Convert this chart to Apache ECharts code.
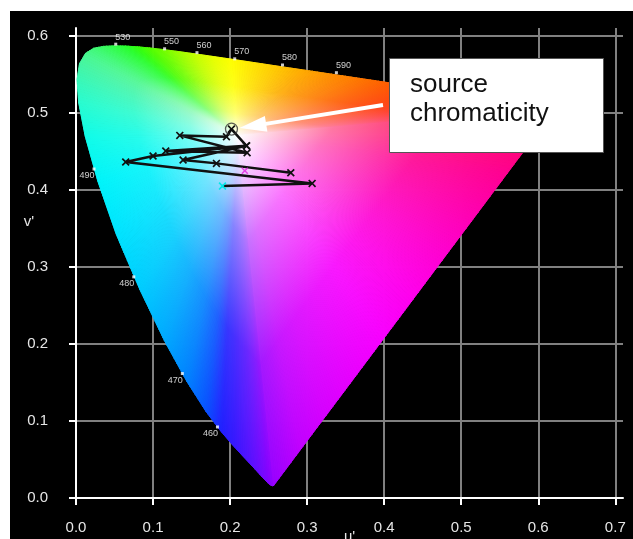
<!DOCTYPE html>
<html><head><meta charset="utf-8">
<script src="https://cdn.jsdelivr.net/npm/echarts@6/dist/echarts.min.js"></script>
<style>
html,body{margin:0;padding:0;background:#fff;}
#wrap{position:relative;width:633px;height:539px;overflow:hidden;}
#bg{position:absolute;left:10px;top:11px;right:0;bottom:0;background:#000;}
#chart{position:absolute;left:0;top:0;width:633px;height:539px;}
</style></head><body>
<div id="wrap"><div id="bg"></div><div id="chart"></div></div>
<script>
// Spectral locus (CIE 1976 u'v')
const locusWl = [380,400,410,420,425,430,435,440,445,450,455,460,465,470,475,480,485,490,495,500,505,510,515,520,525,530,535,540,545,550,555,560,565,570,575,580,585,590,595,600,605,610,620,630,640,650,660,680,700];
const locusU = [0.2568,0.2557,0.2545,0.2522,0.2496,0.2461,0.2411,0.2347,0.2266,0.2161,0.2033,0.1877,0.1690,0.1441,0.1147,0.0828,0.0521,0.0282,0.0119,0.0035,0.0014,0.0046,0.0123,0.0231,0.0360,0.0501,0.0643,0.0792,0.0953,0.1127,0.1319,0.1531,0.1766,0.2026,0.2312,0.2623,0.2960,0.3315,0.3681,0.4035,0.4379,0.4692,0.5203,0.5565,0.5830,0.6005,0.6109,0.6199,0.6234];
const locusV = [0.0166,0.0159,0.0159,0.0169,0.0191,0.0226,0.0279,0.0350,0.0437,0.0549,0.0688,0.0871,0.1119,0.1510,0.2044,0.2708,0.3427,0.4117,0.4698,0.5131,0.5432,0.5638,0.5770,0.5837,0.5861,0.5868,0.5865,0.5856,0.5841,0.5821,0.5796,0.5766,0.5732,0.5694,0.5651,0.5604,0.5554,0.5501,0.5446,0.5393,0.5342,0.5296,0.5219,0.5165,0.5125,0.5099,0.5084,0.5070,0.5065];
const locusColor = ['#9a00ff','#9400ff','#9000ff','#8a00ff','#8400ff','#7c04ff','#7208ff','#660cff','#5810ff','#4814ff','#3418ff','#2020ff','#0850ff','#0080ff','#00a8ff','#00ccff','#00e4ff','#00f4fa','#10fce8','#28fcd0','#38f8b8','#44f6a4','#48f890','#40fa78','#38fc60','#30fe48','#28ff30','#30ff10','#50ff00','#70ff00','#98ff00','#c0ff00','#e4ff00','#ffff00','#ffe400','#ffc800','#ffaa00','#ff9000','#ff7800','#ff6000','#ff4c00','#ff3c00','#ff2c10','#ff2020','#ff1830','#ff1438','#ff1040','#ff0c48','#ff0850'];
// Line of purples (from red end toward violet end)
const purpleU = [0.60,0.56,0.52,0.48,0.44,0.40,0.36,0.32,0.29];
const purpleV = [0.4752,0.4218,0.3683,0.3149,0.2614,0.2080,0.1545,0.1011,0.0610];
const purpleColor = ['#ff0868','#ff0090','#ff00b0','#ff00d0','#ff00ec','#f800ff','#e800ff','#d400ff','#c000ff'];
const whiteU = 0.21, whiteV = 0.47;

// Wavelength markers
const markerWl = ['460','470','480','490','530','550','560','570','580','590'];
const markerU = [0.1836,0.138,0.075,0.0234,0.0516,0.115,0.157,0.206,0.268,0.338];
const markerV = [0.0922,0.1615,0.287,0.427,0.589,0.583,0.578,0.570,0.562,0.552];

// Measured chromaticity trajectory
const pathU = [0.1901,0.3065,0.0645,0.1000,0.2213,0.1165,0.2221,0.1347,0.1953,0.2018,0.2213,0.1390,0.1823,0.2788];
const pathV = [0.4048,0.4083,0.4360,0.4438,0.4571,0.4503,0.4480,0.4706,0.4688,0.4788,0.4571,0.4386,0.4343,0.4221];
const sourceU = [0.2018], sourceV = [0.4788];
const extraU = [0.2191], extraV = [0.4247];

const ticksX = [0,0.1,0.2,0.3,0.4,0.5,0.6,0.7];
const ticksY = [0,0.1,0.2,0.3,0.4,0.5,0.6];

function hexRgb(h){return [parseInt(h.substr(1,2),16),parseInt(h.substr(3,2),16),parseInt(h.substr(5,2),16)];}
function rgbStr(a){return 'rgb('+a.map(v=>Math.round(v)).join(',')+')';}
function mixRgb(a,b,t){return a.map((v,i)=>v*(1-t)+b[i]*t);}
function tint(rgb,a){return rgb.map(v=>255*(1-a)+v*a);}

const boundary = [];
for (let i=0;i<locusU.length;i++) boundary.push([locusU[i],locusV[i],locusColor[i]]);
for (let i=0;i<purpleU.length;i++) boundary.push([purpleU[i],purpleV[i],purpleColor[i]]);
boundary.push([locusU[0],locusV[0],locusColor[0]]);
const segData = boundary.slice(0,-1).map((p,i)=>[p[0],p[1],i]);

const xSym = 'path://M0,1.5L1.5,0L5,3.5L8.5,0L10,1.5L6.5,5L10,8.5L8.5,10L5,6.5L1.5,10L0,8.5L3.5,5Z';
const txt = '#e6e6e6';
const chart = echarts.init(document.getElementById('chart'), null, {renderer:'canvas'});
chart.setOption({
  animation:false,
  grid:{left:76,right:10,top:28,bottom:41,outerBoundsMode:'none',containLabel:false},
  xAxis:{type:'value',min:0,max:0.71,interval:0.1,
    name:"u'",nameLocation:'middle',nameGap:31,nameMoveOverlap:false,nameTextStyle:{color:txt,fontSize:15,fontFamily:'Liberation Sans'},
    axisLine:{show:true,lineStyle:{color:'#ffffff',width:2}},
    axisTick:{show:true,length:7,lineStyle:{color:'#ffffff',width:2},customValues:ticksX},
    axisLabel:{color:txt,fontSize:15,fontFamily:'Liberation Sans',margin:22,customValues:ticksX,formatter:v=>v.toFixed(1)},
    splitLine:{show:true,lineStyle:{color:'#808080',width:2}}},
  yAxis:{type:'value',min:0,max:0.61,interval:0.1,
    axisLine:{show:true,lineStyle:{color:'#ffffff',width:2}},
    axisTick:{show:true,length:7,lineStyle:{color:'#ffffff',width:2},customValues:ticksY},
    axisLabel:{color:txt,fontSize:15,fontFamily:'Liberation Sans',margin:28,customValues:ticksY,formatter:v=>v.toFixed(1)},
    splitLine:{show:true,lineStyle:{color:'#808080',width:2}}},
  series:[
    {type:'custom',z:2,silent:true,encode:{x:0,y:1},data:segData,
     renderItem:function(params,api){
       const i=api.value(2);
       const a=boundary[i],b=boundary[i+1];
       const w=api.coord([whiteU,whiteV]);
       const pa=api.coord([a[0],a[1]]),pb=api.coord([b[0],b[1]]);
       const ex=pb[0]-pa[0], ey=pb[1]-pa[1];
       const len=Math.hypot(ex,ey);
       const t=((w[0]-pa[0])*ex+(w[1]-pa[1])*ey)/(ex*ex+ey*ey||1);
       const foot=[pa[0]+ex*t, pa[1]+ey*t];
       const ca=hexRgb(a[2]), cb=hexRgb(b[2]);
       const n=Math.max(1,Math.ceil(len/3));
       const children=[];
       for(let k=0;k<n;k++){
         const s0=k/n, s1=(k+1)/n;
         const q0=[pa[0]+ex*s0,pa[1]+ey*s0], q1=[pa[0]+ex*s1,pa[1]+ey*s1];
         const c=mixRgb(ca,cb,(s0+s1)/2);
         const grad={type:'linear',x:w[0],y:w[1],x2:foot[0],y2:foot[1],global:true,
           colorStops:[{offset:0,color:'#ffffff'},{offset:0.3,color:rgbStr(tint(c,0.55))},{offset:0.65,color:rgbStr(tint(c,0.9))},{offset:1,color:rgbStr(c)}]};
         children.push({type:'polygon',shape:{points:[w,q0,q1]},style:{fill:grad,stroke:grad,lineWidth:0.8}});
       }
       return {type:'group',children:children};
     }},
    {type:'scatter',z:4,symbol:'rect',symbolSize:3,itemStyle:{color:'#ffffff'},
     data:markerWl.map((w,i)=>{
       const up = markerV[i]>0.5;
       return {name:w,value:[markerU[i],markerV[i]],
         label:{show:true,formatter:'{b}',color:'#ffffff',fontSize:9,fontFamily:'Liberation Sans',
           position: up?[1,-1]:[2,4], align: up?'left':'right', verticalAlign: up?'bottom':'top'}};
     })},
    {type:'line',z:5,data:pathU.map((u,i)=>{
        const d={value:[u,pathV[i]]};
        if(i===0) d.itemStyle={color:'#00e8e8'};
        return d;}),
     symbol:xSym,symbolSize:8,showAllSymbol:true,
     itemStyle:{color:'#111111'},lineStyle:{color:'#111111',width:2.5}},
    {type:'scatter',z:6,symbol:xSym,symbolSize:7,itemStyle:{color:'#e020e0'},
     data:extraU.map((u,i)=>[u,extraV[i]])},
    {type:'scatter',z:6,symbol:'circle',symbolSize:12,
     itemStyle:{color:'rgba(0,0,0,0)',borderColor:'#333333',borderWidth:1.3},
     data:sourceU.map((u,i)=>[u,sourceV[i]])}
  ]
});

// annotation box + arrow pointing to source chromaticity
const src = chart.convertToPixel({gridIndex:0},[sourceU[0],sourceV[0]]);
const tip = [src[0]+8, src[1]-1];
const tail = [383,105];
const dx=tail[0]-tip[0], dy=tail[1]-tip[1], L=Math.hypot(dx,dy);
const ux=dx/L, uy=dy/L, px=-uy, py=ux;
const hl=27, hw=8;
const base=[tip[0]+ux*hl, tip[1]+uy*hl];
chart.setOption({graphic:[
  {type:'text',z:50,x:29,y:222,style:{text:"v'",fill:txt,fontSize:15,fontFamily:'Liberation Sans',align:'center',verticalAlign:'middle'}},
  {type:'line',z:100,shape:{x1:base[0]-ux*2,y1:base[1]-uy*2,x2:tail[0],y2:tail[1]},style:{stroke:'#ffffff',lineWidth:4}},
  {type:'polygon',z:100,shape:{points:[tip,[base[0]+px*hw,base[1]+py*hw],[base[0]-px*hw,base[1]-py*hw]]},style:{fill:'#ffffff'}},
  {type:'rect',z:101,shape:{x:389.5,y:58.5,width:214,height:94},style:{fill:'#ffffff',stroke:'#555555',lineWidth:1}},
  {type:'text',z:102,x:410,y:70,style:{text:'source\nchromaticity',fill:'#111111',fontSize:26,fontFamily:'Liberation Sans',lineHeight:29,verticalAlign:'top'}}
]});
</script>
</body></html>
